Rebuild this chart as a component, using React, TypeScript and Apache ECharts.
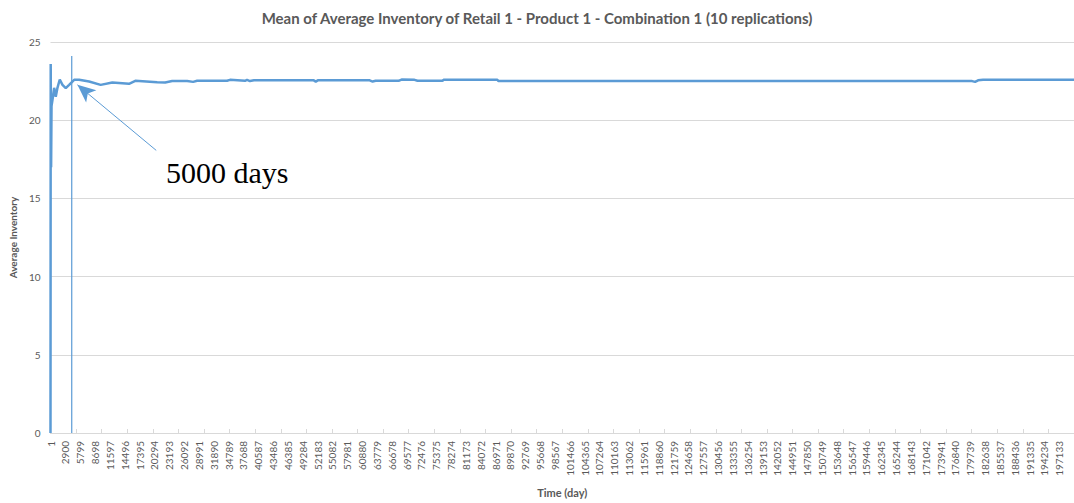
import React, { useEffect, useRef } from "react";
import * as echarts from "echarts";

const titleText = "Mean of Average Inventory of Retail 1 - Product 1 - Combination 1 (10 replications)";
const xAxisName = "Time (day)";
const yAxisName = "Average Inventory";

// Days and mean average inventory
const days = [
  1, 40, 120, 200, 390, 720, 1030, 1360, 1810, 2340, 2980, 3640, 4620, 5590, 7540, 9800,
  12080, 15340, 16570, 20850, 22410, 23780, 26700, 27870, 28650, 34500, 35080, 38010,
  38400, 38980, 39760, 51450, 51840, 52230, 62370, 62950, 63540, 68020, 68600, 71140,
  71720, 76600, 76800, 87320, 87510, 180090, 180670, 181260, 182230, 200000,
];
const inventory = [
  0, 23.6, 17.0, 20.9, 21.3, 22.07, 21.5, 22.07, 22.6, 22.26, 22.05, 22.26, 22.58, 22.58, 22.47, 22.26,
  22.41, 22.33, 22.52, 22.43, 22.41, 22.5, 22.5, 22.45, 22.52, 22.52, 22.58, 22.52,
  22.58, 22.5, 22.55, 22.55, 22.47, 22.55, 22.55, 22.47, 22.52, 22.52, 22.6, 22.58,
  22.52, 22.52, 22.58, 22.58, 22.5, 22.5, 22.45, 22.55, 22.58, 22.58,
];

// Annotation: vertical marker and arrow
const markerDays = [4150, 4150];
const markerValues = [0, 24.1];
const arrowFrom = [20660, 18.07];
const arrowTo = [5260, 22.26];
const annotationText = "5000 days";

const xMin = 0;
const xMax = 200000;
const labelInterval = 2899;
const tickInterval = 5000;
const yMin = 0;
const yMax = 25;
const yInterval = 5;

const grey = "#595959";
const gridGrey = "#D9D9D9";
const blue = "#5B9BD5";

export default function App() {
  const ref = useRef<HTMLDivElement>(null);
  useEffect(() => {
    if (!ref.current) return;
    const chart = echarts.init(ref.current, null, { renderer: "svg" });
    const lineData = days.map((d, i) => [d, inventory[i]]);
    const markerData = markerDays.map((d, i) => [d, markerValues[i]]);
    chart.setOption({
      animation: false,
      backgroundColor: "#ffffff",
      title: {
        text: titleText,
        left: "center",
        top: 5,
        textStyle: { fontFamily: "Lato", fontWeight: "bold", fontSize: 15, color: grey },
      },
      grid: { left: 48, right: 0, top: 42, bottom: 68, containLabel: false },
      xAxis: [
        {
          type: "value",
          min: xMin,
          max: xMax,
          interval: labelInterval,
          position: "bottom",
          axisLine: { show: true, onZero: false, lineStyle: { color: gridGrey, width: 1 } },
          axisTick: { show: false },
          splitLine: { show: false },
          axisLabel: {
            rotate: 90,
            margin: 8,
            fontSize: 10,
            fontFamily: "Lato",
            color: grey,
            showMaxLabel: false,
            formatter: (v: number) => String(v + 1),
          },
          name: xAxisName,
          nameLocation: "middle",
          nameGap: 54,
          nameTextStyle: { fontFamily: "Lato", fontWeight: "bold", fontSize: 11, color: grey },
        },
        {
          type: "value",
          min: xMin,
          max: xMax,
          interval: tickInterval,
          position: "bottom",
          axisLine: { show: false, onZero: false },
          axisTick: { show: true, inside: true, length: 4, lineStyle: { color: gridGrey } },
          axisLabel: { show: false },
          splitLine: { show: false },
        },
      ],
      yAxis: {
        type: "value",
        min: yMin,
        max: yMax,
        interval: yInterval,
        axisLine: { show: false },
        axisTick: { show: false },
        splitLine: { show: true, lineStyle: { color: gridGrey, width: 1 } },
        axisLabel: { fontSize: 10, fontFamily: "Lato", color: grey, margin: 10 },
        name: yAxisName,
        nameLocation: "middle",
        nameGap: 30,
        nameTextStyle: { fontFamily: "Lato", fontWeight: "bold", fontSize: 10, color: grey },
      },
      series: [
        {
          type: "line",
          data: lineData,
          showSymbol: false,
          symbol: "none",
          lineStyle: { color: blue, width: 2.5 },
          z: 3,
        },
        {
          type: "line",
          data: markerData,
          showSymbol: false,
          symbol: "none",
          lineStyle: { color: blue, width: 1.2 },
          z: 2,
          markLine: {
            silent: true,
            symbol: ["none", "arrow"],
            symbolSize: [12, 18],
            label: { show: false },
            lineStyle: { color: blue, width: 1, type: "solid" },
            data: [[{ coord: arrowFrom }, { coord: arrowTo }]],
          },
        },
      ],
      graphic: [
        {
          type: "text",
          x: 166,
          y: 172,
          style: {
            text: annotationText,
            font: '30px "Liberation Serif"',
            fill: "#000000",
            verticalAlign: "middle",
          },
        },
      ],
    });
    return () => chart.dispose();
  }, []);
  return (
    <div
      ref={ref}
      style={{ position: "fixed", left: 0, top: 0, width: 1074, height: 503 }}
    />
  );
}
